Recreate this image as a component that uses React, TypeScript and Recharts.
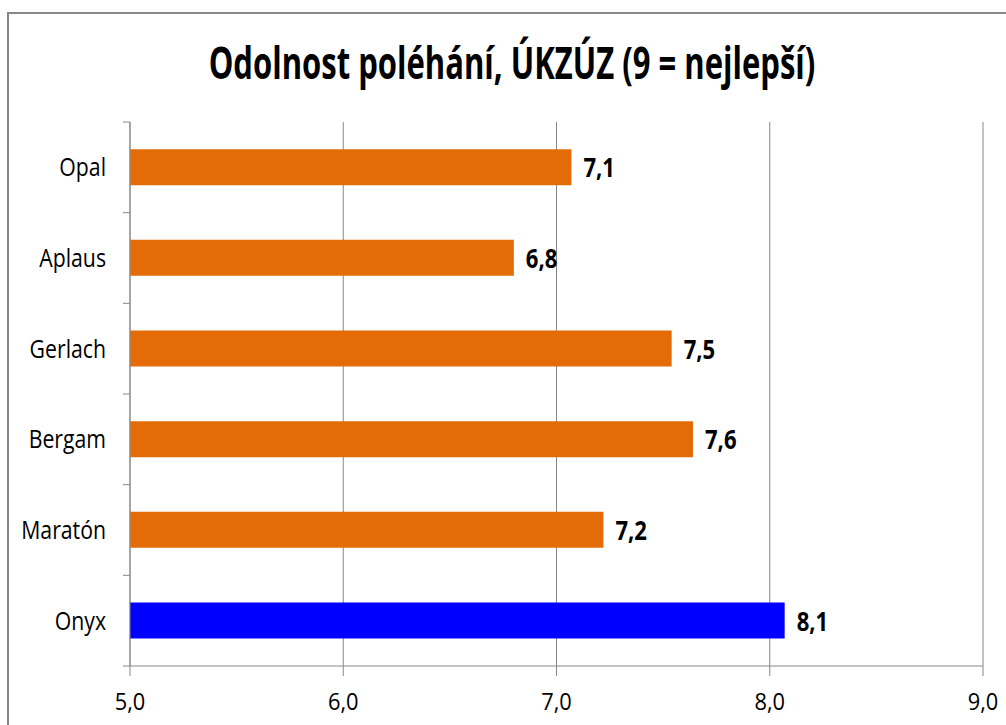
import React from "react";
import { Bar, BarChart, CartesianGrid, Cell, LabelList, XAxis, YAxis } from "recharts";

// Odolnost poléhání
const varieties = ["Opal", "Aplaus", "Gerlach", "Bergam", "Maratón", "Onyx"];
const scores = [7.07, 6.8, 7.54, 7.64, 7.22, 8.07];
const barColors = ["#E36C09", "#E36C09", "#E36C09", "#E36C09", "#E36C09", "#0000FF"];
const xTicks = [5, 6, 7, 8, 9];

const FONT = '"Open Sans", sans-serif';
const fmt = (v: number) => v.toFixed(1).replace(".", ",");

const chartData = varieties.map((name, i) => ({ name, value: scores[i], color: barColors[i] }));

function CategoryTick(props: any) {
  const { x, y, payload, index } = props;
  const half = payload?.offset ?? 0;
  return (
    <g>
      <line x1={x + 1} x2={x + 8} y1={y - half} y2={y - half} stroke="#888" />
      {index === varieties.length - 1 && (
        <line x1={x + 1} x2={x + 8} y1={y + half} y2={y + half} stroke="#888" />
      )}
      <text
        transform={`translate(${x - 16},${y + 9}) scale(0.85,1)`}
        textAnchor="end"
        fontSize={25}
        fill="#000"
        fontFamily={FONT}
      >
        {payload.value}
      </text>
    </g>
  );
}

function ValueTick(props: any) {
  const { x, y, payload } = props;
  return (
    <text
      transform={`translate(${x},${y + 32}) scale(0.95,1)`}
      textAnchor="middle"
      fontSize={23}
      fill="#000"
      fontFamily={FONT}
    >
      {fmt(payload.value)}
    </text>
  );
}

function ValueLabel(props: any) {
  const { x, y, width, height, value } = props;
  return (
    <text
      transform={`translate(${x + width + 12},${y + height / 2 + 10}) scale(0.85,1)`}
      fontSize={26}
      fontWeight="bold"
      fill="#000"
      fontFamily={FONT}
    >
      {fmt(Number(value))}
    </text>
  );
}

export default function App() {
  return (
    <div style={{ position: "absolute", left: 0, top: 0, width: 1006, height: 725, overflow: "hidden", background: "#fff" }}>
      <div
        style={{
          position: "absolute",
          left: 7,
          top: 12,
          width: 1020,
          height: 740,
          border: "2px solid #888",
        }}
      />
      <div
        style={{
          position: "absolute",
          left: 0,
          width: 1024,
          top: 32,
          textAlign: "center",
          fontFamily: FONT,
          fontWeight: "bold",
          fontSize: 44,
          lineHeight: "normal",
          color: "#000",
          whiteSpace: "nowrap",
          transform: "scaleX(0.705)",
          transformOrigin: "512px 0",
        }}
      >
        Odolnost poléhání, ÚKZÚZ (9 = nejlepší)
      </div>
      <div style={{ position: "absolute", left: 0, top: 0 }}>
        <BarChart
          width={1006}
          height={725}
          data={chartData}
          layout="vertical"
          margin={{ top: 122, right: 23, bottom: 19, left: 6 }}
          barCategoryGap="30%"
        >
          <CartesianGrid horizontal={false} stroke="#888" />
          <XAxis
            type="number"
            domain={[5, 9]}
            ticks={xTicks}
            allowDataOverflow
            height={40}
            tickSize={10}
            stroke="#888"
            tick={<ValueTick />}
          />
          <YAxis
            type="category"
            dataKey="name"
            width={124}
            stroke="#888"
            tickLine={false}
            tick={<CategoryTick />}
          />
          <Bar dataKey="value" isAnimationActive={false}>
            {chartData.map((d) => (
              <Cell key={d.name} fill={d.color} />
            ))}
            <LabelList dataKey="value" content={<ValueLabel />} />
          </Bar>
        </BarChart>
      </div>
    </div>
  );
}
